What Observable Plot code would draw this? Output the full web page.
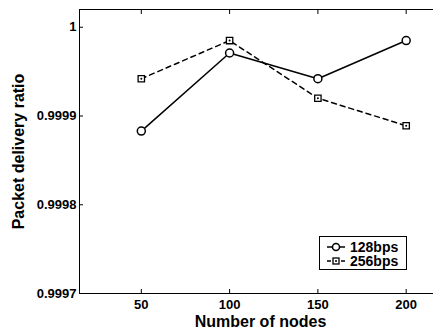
<!DOCTYPE html>
<html><head><meta charset="utf-8">
<script src="https://cdn.jsdelivr.net/npm/d3@7"></script>
<script src="https://cdn.jsdelivr.net/npm/@observablehq/plot@0.6"></script>
<style>
body{margin:0;background:#fff;}
#wrap{position:relative;width:433px;height:329px;overflow:hidden;font-family:"Liberation Sans",Arial,sans-serif;}
#wrap > svg{max-width:none !important;}
#legend{position:absolute;left:319px;top:236px;width:86px;height:32px;border:1px solid #000;background:#fff;font-weight:bold;font-size:14px;}
#legend .row{position:absolute;left:0;height:14px;display:flex;align-items:center;}
#legend svg{display:block}
</style></head>
<body><div id="wrap"></div>
<script>
const nodes = [50, 100, 150, 200];
const series128 = [0.999883, 0.999971, 0.999942, 0.999985];
const series256 = [0.999942, 0.999985, 0.99992, 0.999889];
const seriesNames = ["128bps", "256bps"];
const yTicks = [0.9997, 0.9998, 0.9999, 1];
const yTickLabels = ["0.9997", "0.9998", "0.9999", "1"];
const xTicks = [50, 100, 150, 200];

const d128 = nodes.map((n, i) => ({n, v: series128[i]}));
const d256 = nodes.map((n, i) => ({n, v: series256[i]}));
const fmtY = v => yTickLabels[yTicks.findIndex(t => Math.abs(t - v) < 1e-9)];

const chart = Plot.plot({
  width: 443, height: 329,
  marginLeft: 79, marginRight: 2, marginTop: 9, marginBottom: 36,
  style: {fontFamily: '"Liberation Sans", Arial, sans-serif', fontWeight: "bold", fontSize: "13px", color: "#000", background: "#fff", maxWidth: "none"},
  x: {domain: [15, 220]},
  y: {domain: [0.9997, 1.00002]},
  marks: [
    Plot.frame({stroke: "#000", strokeWidth: 1}),
    Plot.axisX({ticks: xTicks, tickSize: 0, tickPadding: 6, label: null, tickFormat: d => String(d)}),
    Plot.axisX({ticks: xTicks, tickSize: -4, label: null, tickFormat: () => ""}),
    Plot.axisX({ticks: xTicks, anchor: "top", tickSize: -4, label: null, tickFormat: () => ""}),
    Plot.axisY({ticks: yTicks, tickSize: 0, tickPadding: 3, label: null, tickFormat: fmtY}),
    Plot.axisY({ticks: yTicks, tickSize: -4, label: null, tickFormat: () => ""}),
    Plot.axisY({ticks: yTicks, anchor: "right", tickSize: -4, label: null, tickFormat: () => ""}),
    Plot.line(d256, {x: "n", y: "v", stroke: "#000", strokeWidth: 1.5, strokeDasharray: "5,4"}),
    Plot.line(d128, {x: "n", y: "v", stroke: "#000", strokeWidth: 1.5}),
    Plot.dot(d256, {x: "n", y: "v", symbol: "square", r: 3.6, stroke: "#000", fill: "#fff", strokeWidth: 1.3}),
    Plot.dot(d256, {x: "n", y: "v", r: 1, fill: "#000"}),
    Plot.dot(d128, {x: "n", y: "v", symbol: "circle", r: 4, stroke: "#000", fill: "#fff", strokeWidth: 1.5}),
    Plot.text(["Number of nodes"], {frameAnchor: "bottom", dy: 28, textAnchor: "middle", lineAnchor: "middle", fontSize: 16, fontWeight: "bold", fill: "#000"}),
    Plot.text(["Packet delivery ratio"], {frameAnchor: "left", dx: -61, rotate: -90, textAnchor: "middle", lineAnchor: "middle", fontSize: 16, fontWeight: "bold", fill: "#000"})
  ]
});
const wrap = document.getElementById("wrap");
wrap.appendChild(chart);

const legend = document.createElement("div");
legend.id = "legend";
const rows = [
  {name: seriesNames[0], dash: null, marker: "circle"},
  {name: seriesNames[1], dash: "4,3", marker: "square"}
];
rows.forEach((r, i) => {
  const row = document.createElement("div");
  row.className = "row";
  row.style.top = (3 + i * 14) + "px";
  const ns = "http://www.w3.org/2000/svg";
  const s = document.createElementNS(ns, "svg");
  s.setAttribute("width", 30); s.setAttribute("height", 14);
  const l = document.createElementNS(ns, "line");
  l.setAttribute("x1", 7); l.setAttribute("x2", 25); l.setAttribute("y1", 7); l.setAttribute("y2", 7);
  l.setAttribute("stroke", "#000"); l.setAttribute("stroke-width", 1.5);
  if (r.dash) l.setAttribute("stroke-dasharray", r.dash);
  s.appendChild(l);
  if (r.marker === "circle") {
    const c = document.createElementNS(ns, "circle");
    c.setAttribute("cx", 16); c.setAttribute("cy", 7); c.setAttribute("r", 3.5);
    c.setAttribute("fill", "#fff"); c.setAttribute("stroke", "#000"); c.setAttribute("stroke-width", 1.5);
    s.appendChild(c);
  } else {
    const q = document.createElementNS(ns, "rect");
    q.setAttribute("x", 13); q.setAttribute("y", 4); q.setAttribute("width", 6); q.setAttribute("height", 6);
    q.setAttribute("fill", "#fff"); q.setAttribute("stroke", "#000"); q.setAttribute("stroke-width", 1.3);
    s.appendChild(q);
    const d = document.createElementNS(ns, "circle");
    d.setAttribute("cx", 16); d.setAttribute("cy", 7); d.setAttribute("r", 1); d.setAttribute("fill", "#000");
    s.appendChild(d);
  }
  row.appendChild(s);
  const t = document.createElement("span");
  t.textContent = r.name;
  row.appendChild(t);
  legend.appendChild(row);
});
wrap.appendChild(legend);
</script></body></html>
